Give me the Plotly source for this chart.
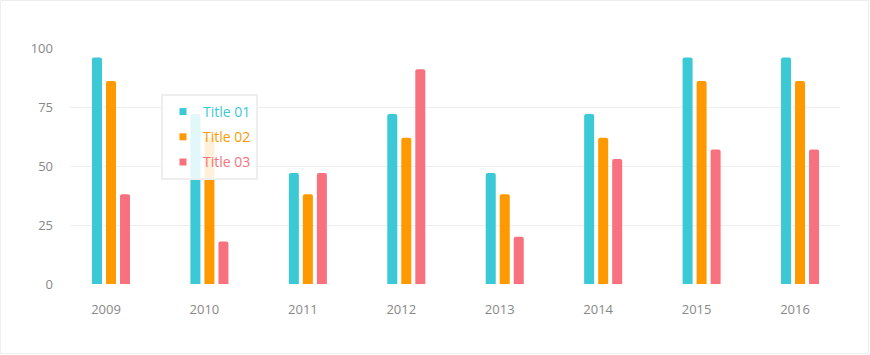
import plotly.graph_objects as go

years = ["2009", "2010", "2011", "2012", "2013", "2014", "2015", "2016"]
title01 = [96, 72, 47, 72, 47, 72, 96, 96]
title02 = [86, 62, 38, 62, 38, 62, 86, 86]
title03 = [38, 18, 47, 91, 20, 53, 57, 57]
names = ["Title 01", "Title 02", "Title 03"]
colors = ["#3cc9d6", "#fe9900", "#f7727e"]
series = [title01, title02, title03]
y_ticks = [0, 25, 50, 75, 100]

W, H = 870, 355
L, R, T, B = 70, 30, 48, 71
pw, ph = W - L - R, H - T - B

xi = list(range(len(years)))
fig = go.Figure()
for name, col, vals in zip(names, colors, series):
    fig.add_trace(go.Bar(x=xi, y=vals, name=name, marker=dict(color=col, line=dict(width=0)),
                         showlegend=False))
for name, col in zip(names, colors):
    fig.add_trace(go.Scatter(x=[None], y=[None], mode="markers", name=f'<span style="color:{col}">{name}</span>',
                             marker=dict(symbol="square", size=7, color=col), legendgroup=name))

def px_x(p):
    return (p - L) / pw

def px_y(p):
    return (T + ph - p) / ph

fig.update_layout(
    width=W, height=H,
    margin=dict(l=L, r=R, t=T, b=B),
    paper_bgcolor="white", plot_bgcolor="white",
    barmode="group", bargap=0.573, bargroupgap=0.286, barcornerradius=2,
    font=dict(family="Open Sans", color="#888888", size=13),
    xaxis=dict(range=[-0.4165, 7.406], tickvals=xi, ticktext=years, showgrid=False, zeroline=False,
               showline=False, ticks="", ticklabelshift=-5, ticklabelstandoff=16,
               tickfont=dict(size=13, color="#888888")),
    yaxis=dict(range=[0, 100], tickvals=y_ticks, showgrid=True, gridcolor="#eeeeee", gridwidth=1,
               zeroline=True, zerolinecolor="#ffffff", showline=False, ticks="", ticklabelstandoff=16,
               tickfont=dict(size=13, color="#888888")),
    legend=dict(x=px_x(161), y=px_y(94), xanchor="left", yanchor="top",
                bgcolor="rgba(255,255,255,0.85)", bordercolor="#eeeeee", borderwidth=2,
                font=dict(size=14, family="Open Sans"), tracegroupgap=4, traceorder="grouped",
                itemwidth=30),
    shapes=[dict(type="rect", xref="paper", yref="paper", x0=px_x(0.5), x1=px_x(868.5),
                 y0=px_y(353.5), y1=px_y(0.5), line=dict(color="#eeeeee", width=1), layer="below")],
    hovermode=False,
)

fig.write_html("out.html")
